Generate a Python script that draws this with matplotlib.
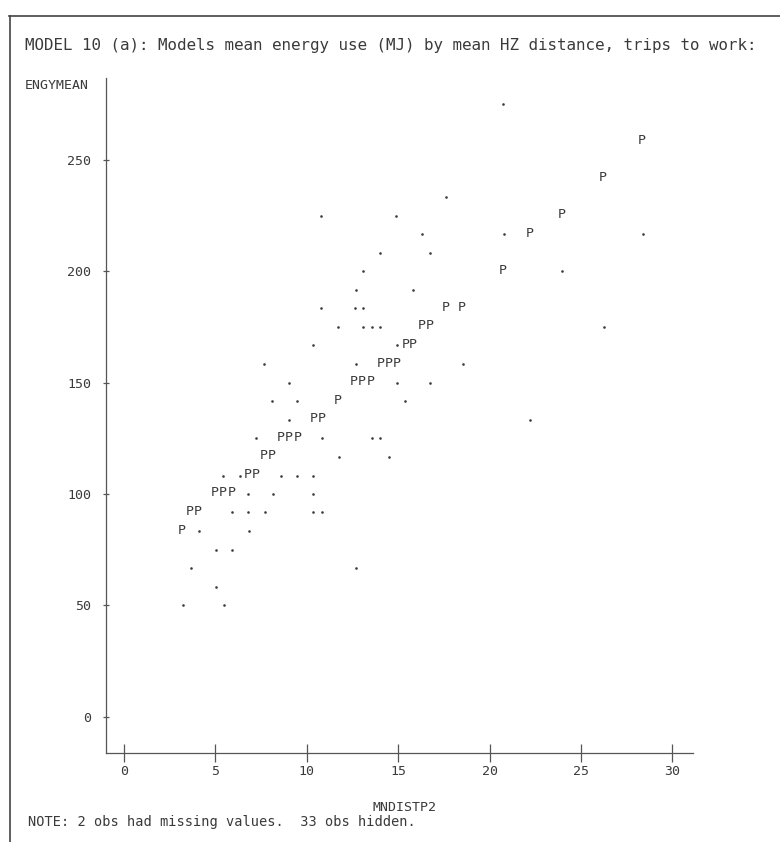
"""
MODEL 10 (a): mean energy use vs mean HZ distance, line-printer style plot.
Dots are observed values, P marks the model predictions.
"""
import matplotlib
matplotlib.use("Agg")
import matplotlib.pyplot as plt
from matplotlib.lines import Line2D
from matplotlib.transforms import offset_copy

# --- Data ---
obs_x = [20.74, 17.62, 10.78, 14.90, 16.30, 20.78, 28.40, 13.99, 16.75, 13.10,
         23.97, 12.67, 15.82, 10.78, 12.63, 13.10, 11.70, 13.10, 13.55, 14.00,
         26.24, 10.34, 14.93, 7.64, 12.67, 18.56, 9.04, 14.93, 16.75, 8.11,
         9.47, 15.39, 9.04, 22.20, 7.22, 10.82, 13.57, 14.03, 11.76, 14.48,
         5.44, 6.37, 8.60, 9.49, 10.36, 6.80, 8.13, 10.36, 5.92, 6.80,
         7.71, 10.36, 10.85, 4.08, 6.82, 5.01, 5.92, 3.65, 12.68, 5.03,
         3.21, 5.48]
obs_y = [275.0, 233.3, 225.0, 225.0, 216.7, 216.7, 216.7, 208.3, 208.3, 200.0,
         200.0, 191.7, 191.7, 183.3, 183.3, 183.3, 175.0, 175.0, 175.0, 175.0,
         175.0, 166.7, 166.7, 158.3, 158.3, 158.3, 150.0, 150.0, 150.0, 141.7,
         141.7, 141.7, 133.3, 133.3, 125.0, 125.0, 125.0, 125.0, 116.7, 116.7,
         108.3, 108.3, 108.3, 108.3, 108.3, 100.0, 100.0, 100.0, 91.7, 91.7,
         91.7, 91.7, 91.7, 83.3, 83.3, 75.0, 75.0, 66.7, 66.7, 58.3,
         50.0, 50.0]

pred_x = [28.34, 26.20, 23.97, 22.17, 20.74, 17.58, 18.50, 16.30, 16.70, 15.39,
          15.80, 14.03, 14.47, 14.93, 12.57, 13.03, 13.48, 11.72, 10.36, 10.82,
          8.58, 9.04, 9.49, 7.66, 8.09, 6.77, 7.22, 4.95, 5.41, 5.88,
          3.59, 4.04, 3.16]
pred_y = [258.3, 241.7, 225.0, 216.7, 200.0, 183.3, 183.3, 175.0, 175.0, 166.7,
          166.7, 158.3, 158.3, 158.3, 150.0, 150.0, 150.0, 141.7, 133.3, 133.3,
          125.0, 125.0, 125.0, 116.7, 116.7, 108.3, 108.3, 100.0, 100.0, 100.0,
          91.7, 91.7, 83.3]

x_ticks = [0, 5, 10, 15, 20, 25, 30]
y_ticks = [0, 50, 100, 150, 200, 250]

TITLE = "MODEL 10 (a): Models mean energy use (MJ) by mean HZ distance, trips to work:"
NOTE = "NOTE: 2 obs had missing values.  33 obs hidden."

INK = "#3a3a3a"
plt.rcParams["font.family"] = ["DejaVu Sans Mono"]

fig = plt.figure(figsize=(7.8, 8.42), dpi=100)
ax = fig.add_axes([0.1359, 0.1057, 0.752, 0.8017])

# observed values as dots, predictions as printed P characters
ax.scatter(obs_x, obs_y, s=3.5, c=INK, marker="o", linewidths=0, zorder=3)
p_trans = offset_copy(ax.transData, fig=fig, x=0, y=-2.5, units="dots")
for px, py in zip(pred_x, pred_y):
    ax.text(px, py, "P", ha="center", va="baseline", fontsize=9.5, color=INK,
            transform=p_trans)

ax.set_xlim(-0.98, 31.1)
ax.set_ylim(-16.3, 286.8)
ax.set_xticks(x_ticks)
ax.set_yticks(y_ticks)

for side in ("top", "right"):
    ax.spines[side].set_visible(False)
for side in ("left", "bottom"):
    ax.spines[side].set_color("#555555")
    ax.spines[side].set_linewidth(0.9)

ax.tick_params(axis="x", direction="inout", length=13, width=0.9, color="#555555",
               labelsize=9.5, labelcolor=INK, pad=2)
ax.tick_params(axis="y", direction="inout", length=5, width=0.9, color="#555555",
               labelsize=9.5, labelcolor=INK, pad=8)

# page texts
fig.text(0.032, 0.9454, TITLE, fontsize=11.45, color=INK, va="center", ha="left")
fig.text(0.032, 0.899, "ENGYMEAN", fontsize=9.5, color=INK, va="center", ha="left")
fig.text(0.518, 0.0404, "MNDISTP2", fontsize=9.5, color=INK, va="center", ha="center")
fig.text(0.0359, 0.0238, NOTE, fontsize=9.8, color=INK, va="center", ha="left")

# printout frame (top and left edges)
fig.add_artist(Line2D([0.012, 1.0], [0.981, 0.981], transform=fig.transFigure,
                      color="#444444", linewidth=1.2))
fig.add_artist(Line2D([0.013, 0.013], [0.0, 0.981], transform=fig.transFigure,
                      color="#444444", linewidth=1.2))

plt.savefig("out.png", dpi=100)
